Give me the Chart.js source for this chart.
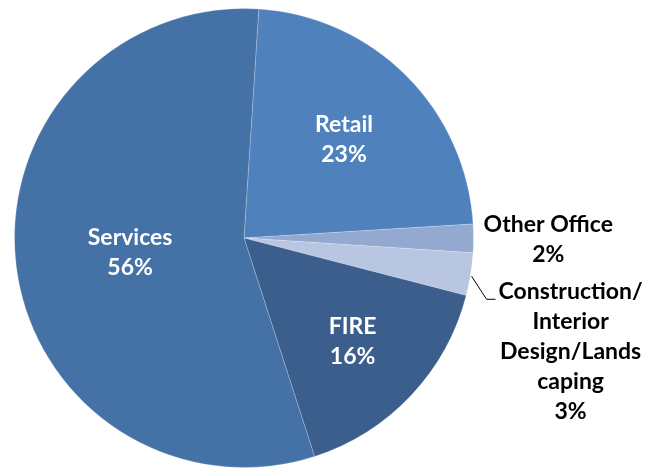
<!DOCTYPE html>
<html>
<head>
<meta charset="utf-8">
<script src="https://cdn.jsdelivr.net/npm/chart.js@4"></script>
<style>
  html, body { margin: 0; padding: 0; background: #fff; }
  #wrap { width: 658px; height: 471px; }
</style>
</head>
<body>
<div id="wrap"><canvas id="pie"></canvas></div>
<script>
// sectors, clockwise from just right of the top
var categories = ["Retail", "Other Office", "Construction/Interior Design/Landscaping", "FIRE", "Services"];
var shares = [23, 2, 3, 16, 56];
var labelLines = [
    ["Retail", "23%"],
    ["Other Office", "2%"],
    ["Construction/", "Interior", "Design/Lands", "caping", "3%"],
    ["FIRE", "16%"],
    ["Services", "56%"]
];
var colors = ["#4F81BD", "#94A9D0", "#B9C6E1", "#3B5E8C", "#4472A7"];

// where each label sits: r = fraction of radius along the slice middle,
// dx/dy shift for the labels pulled out with a leader
var labelSpots = [
    { r: 0.615, color: "#fff" },
    { r: 1.326, color: "#000" },
    { r: 1.0, dx: 100, dy: 76, color: "#000", leader: true },
    { r: 0.65, color: "#fff" },
    { r: 0.50, color: "#fff" }
];

var FONT_SIZE = 23;
var LINE_H = 30;

var sliceLabels = {
    id: "sliceLabels",
    afterDatasetsDraw: function (chart) {
        var ctx = chart.ctx;
        var arcs = chart.getDatasetMeta(0).data;
        ctx.save();
        ctx.font = "bold " + FONT_SIZE + "px Lato";
        ctx.textAlign = "center";
        ctx.textBaseline = "alphabetic";
        arcs.forEach(function (arc, i) {
            var p = arc.getProps(["x", "y", "startAngle", "endAngle", "outerRadius"], true);
            var mid = (p.startAngle + p.endAngle) / 2;
            var spot = labelSpots[i];
            var ex = p.x + Math.cos(mid) * p.outerRadius;
            var ey = p.y + Math.sin(mid) * p.outerRadius;
            var cx = p.x + Math.cos(mid) * p.outerRadius * spot.r + (spot.dx || 0);
            var cy = p.y + Math.sin(mid) * p.outerRadius * spot.r + (spot.dy || 0);
            var lines = labelLines[i];
            var top = cy - (lines.length - 1) * LINE_H / 2 + FONT_SIZE * 0.36;

            if (spot.leader) {
                var firstMid = top - FONT_SIZE * 0.36;
                var w = ctx.measureText(lines[0]).width;
                ctx.strokeStyle = "#000";
                ctx.lineWidth = 1;
                ctx.beginPath();
                ctx.moveTo(ex + 1, ey + 2);
                ctx.lineTo(ex + 16, firstMid + 9);
                ctx.lineTo(cx - w / 2 - 3, firstMid + 9);
                ctx.stroke();
            }

            ctx.fillStyle = spot.color;
            lines.forEach(function (t, j) {
                ctx.fillText(t, cx, top + j * LINE_H);
            });
        });
        ctx.restore();
    }
};

new Chart(document.getElementById("pie"), {
    type: "pie",
    data: {
        labels: categories,
        datasets: [{
            data: shares,
            backgroundColor: colors,
            borderColor: "rgba(255,255,255,0.2)",
            borderWidth: 1
        }]
    },
    options: {
        responsive: true,
        maintainAspectRatio: false,
        animation: false,
        rotation: 3.7,
        layout: { padding: { left: 14, top: 8, right: 184, bottom: 3 } },
        plugins: {
            legend: { display: false },
            tooltip: { enabled: false }
        }
    },
    plugins: [sliceLabels]
});
</script>
</body>
</html>
